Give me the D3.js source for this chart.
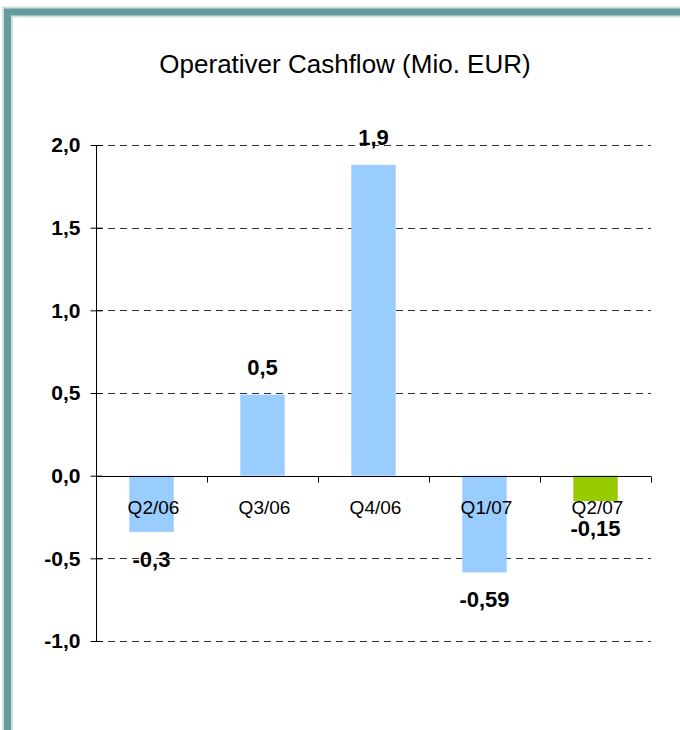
<!DOCTYPE html>
<html lang="de">
<head>
  <meta charset="UTF-8">
  <title>Operativer Cashflow</title>
  <script src="https://d3js.org/d3.v7.min.js"></script>
  <style>
    body { margin: 0; background: #fff; }
    svg { display: block; font-family: "Liberation Sans", Arial, sans-serif; }
  </style>
</head>
<body>
  <svg width="680" height="730"></svg>
<script>
  // data
  const quarters = ['Q2/06', 'Q3/06', 'Q4/06', 'Q1/07', 'Q2/07'];
  const cashflow = [-0.34, 0.49, 1.88, -0.585, -0.153];
  const valueLabels = ['-0,3', '0,5', '1,9', '-0,59', '-0,15'];
  const yTicks = [-1, -0.5, 0, 0.5, 1, 1.5, 2];
  const yTickLabels = ['-1,0', '-0,5', '0,0', '0,5', '1,0', '1,5', '2,0'];
  const barColors = ['#99ccff', '#99ccff', '#99ccff', '#99ccff', '#99cc00'];

  const svg = d3.select('svg');
  const margin = { top: 145, left: 96, right: 29, bottom: 89 };
  const width = +svg.attr('width');
  const height = +svg.attr('height');
  const innerWidth = width - margin.left - margin.right;
  const innerHeight = height - margin.top - margin.bottom;

  // frame
  svg.append('rect')
    .attr('x', 7.5).attr('y', 12)
    .attr('width', 720).attr('height', 760)
    .attr('fill', 'none')
    .attr('stroke', '#d3e0e0')
    .attr('stroke-width', 11);
  svg.append('rect')
    .attr('x', 7.5).attr('y', 12)
    .attr('width', 720).attr('height', 760)
    .attr('fill', 'none')
    .attr('stroke', '#669b9e')
    .attr('stroke-width', 7);

  svg.append('text')
    .attr('x', 345).attr('y', 73)
    .attr('text-anchor', 'middle')
    .attr('font-size', '26px')
    .attr('fill', '#000')
    .text('Operativer Cashflow (Mio. EUR)');

  const g = svg.append('g')
    .attr('transform', `translate(${margin.left},${margin.top})`);

  const x = d3.scaleBand().domain(quarters).range([0, innerWidth]).padding(0);
  const y = d3.scaleLinear().domain([-1, 2]).range([innerHeight, 0]);

  // dashed gridlines
  g.append('g')
    .selectAll('line')
    .data(yTicks.filter(t => t !== 0))
    .join('line')
    .attr('x1', 0).attr('x2', innerWidth)
    .attr('y1', d => Math.round(y(d)) + 0.5)
    .attr('y2', d => Math.round(y(d)) + 0.5)
    .attr('stroke', '#333')
    .attr('stroke-dasharray', '7,5');

  // bars
  const barW = x.bandwidth() * 0.4;
  g.append('g')
    .selectAll('rect')
    .data(cashflow)
    .join('rect')
    .attr('x', (d, i) => x(quarters[i]) + (x.bandwidth() - barW) / 2)
    .attr('y', d => y(Math.max(0, d)))
    .attr('width', barW)
    .attr('height', d => Math.abs(y(d) - y(0)))
    .attr('fill', (d, i) => barColors[i]);

  // y axis
  const yAxis = g.append('g')
    .attr('transform', 'translate(0.5,0)')
    .call(d3.axisLeft(y).tickValues(yTicks).tickSize(6)
      .tickFormat((d, i) => yTickLabels[i]));
  yAxis.select('.domain').attr('d', `M0,${y(2)}V${y(-1)}`).attr('stroke', '#000');
  yAxis.selectAll('.tick line').attr('x1', -6).attr('x2', 6).attr('stroke', '#000');
  yAxis.selectAll('.tick text')
    .attr('x', -16)
    .attr('font-size', '21px')
    .attr('font-weight', 'bold')
    .attr('fill', '#000')
    .attr('font-family', '"Liberation Sans", Arial, sans-serif');

  // x axis at zero
  const xAxis = g.append('g')
    .attr('transform', `translate(0,${Math.round(y(0)) + 0.5})`);
  xAxis.append('line')
    .attr('x1', 0).attr('x2', innerWidth)
    .attr('stroke', '#000');
  xAxis.selectAll('.xtick')
    .data(quarters)
    .join('line')
    .attr('class', 'xtick')
    .attr('x1', d => Math.round(x(d) + x.bandwidth()) + 0.5)
    .attr('x2', d => Math.round(x(d) + x.bandwidth()) + 0.5)
    .attr('y1', 0).attr('y2', 6)
    .attr('stroke', '#000');
  xAxis.selectAll('.xlabel')
    .data(quarters)
    .join('text')
    .attr('class', 'xlabel')
    .attr('x', d => x(d) + x.bandwidth() / 2 + 2)
    .attr('y', 37)
    .attr('text-anchor', 'middle')
    .attr('font-size', '19px')
    .attr('fill', '#000')
    .text(d => d);

  // value labels
  g.append('g')
    .selectAll('text')
    .data(cashflow)
    .join('text')
    .attr('x', (d, i) => x(quarters[i]) + x.bandwidth() / 2)
    .attr('y', d => d >= 0 ? y(d) - 20 : y(d) + 35)
    .attr('text-anchor', 'middle')
    .attr('font-size', '22px')
    .attr('font-weight', 'bold')
    .attr('fill', '#000')
    .text((d, i) => valueLabels[i]);
</script>
</body>
</html>
